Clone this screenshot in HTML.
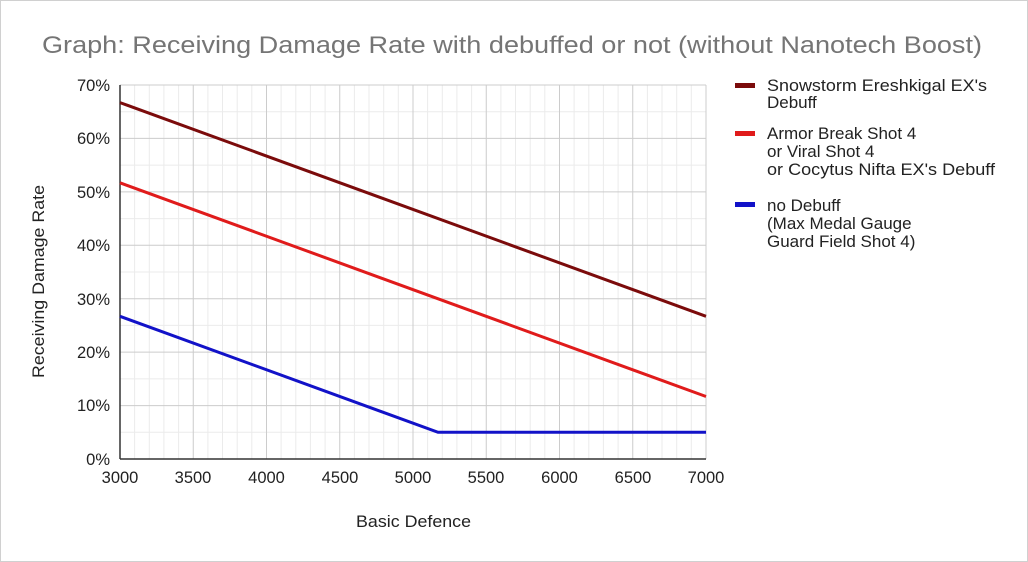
<!DOCTYPE html>
<html><head><meta charset="utf-8"><style>
body{margin:0;background:#fff;}
svg{display:block;font-family:"Liberation Sans",Arial,sans-serif;}
</style></head><body>
<svg width="1028" height="562" viewBox="0 0 1028 562" xmlns="http://www.w3.org/2000/svg">
<rect x="0.5" y="0.5" width="1027" height="561" fill="#fff" stroke="#d0d0d0"/>
<text x="42" y="53" font-size="24" fill="#757575" textLength="940" lengthAdjust="spacingAndGlyphs">Graph: Receiving Damage Rate with debuffed or not (without Nanotech Boost)</text>
<g stroke="#ebebeb" stroke-width="1">
<path d="M134.6 85V459M149.3 85V459M163.9 85V459M178.6 85V459M207.9 85V459M222.5 85V459M237.2 85V459M251.8 85V459M281.1 85V459M295.8 85V459M310.4 85V459M325.1 85V459M354.4 85V459M369.0 85V459M383.7 85V459M398.3 85V459M427.6 85V459M442.3 85V459M456.9 85V459M471.6 85V459M500.9 85V459M515.5 85V459M530.2 85V459M544.8 85V459M574.1 85V459M588.8 85V459M603.4 85V459M618.1 85V459M647.4 85V459M662.0 85V459M676.7 85V459M691.3 85V459"/>
<path d="M120 111.7H706M120 165.1H706M120 218.6H706M120 272H706M120 325.4H706M120 378.9H706M120 432.3H706"/>
</g>
<g stroke="#cccccc" stroke-width="1">
<path d="M193.25 85V459M266.5 85V459M339.75 85V459M413 85V459M486.25 85V459M559.5 85V459M632.75 85V459M706 85V459"/>
<path d="M120 85H706M120 138.4H706M120 191.9H706M120 245.3H706M120 298.7H706M120 352.1H706M120 405.6H706"/>
</g>
<path d="M120 459H706" stroke="#333" stroke-width="1.5"/>
<path d="M120 85V459" stroke="#333" stroke-width="1.5"/>
<g font-size="16.5" fill="#222" text-anchor="end">
<text x="110" y="91">70%</text><text x="110" y="144">60%</text><text x="110" y="198">50%</text>
<text x="110" y="251">40%</text><text x="110" y="305">30%</text><text x="110" y="358">20%</text>
<text x="110" y="411">10%</text><text x="110" y="465">0%</text>
</g>
<g font-size="16.5" fill="#222" text-anchor="middle">
<text x="120" y="483">3000</text><text x="193" y="483">3500</text><text x="266.5" y="483">4000</text>
<text x="340" y="483">4500</text><text x="413" y="483">5000</text><text x="486" y="483">5500</text>
<text x="559.5" y="483">6000</text><text x="633" y="483">6500</text><text x="706" y="483">7000</text>
</g>
<text x="356" y="527" font-size="17" fill="#222" textLength="115" lengthAdjust="spacingAndGlyphs">Basic Defence</text>
<text transform="translate(44 378) rotate(-90)" font-size="17" fill="#222" textLength="193" lengthAdjust="spacingAndGlyphs">Receiving Damage Rate</text>
<g fill="none" stroke-width="3">
<path d="M120 102.6L706 316.3" stroke="#7b0b0b"/>
<path d="M120 182.8L706 396.5" stroke="#e01b1b"/>
<path d="M120 316.3L438 432.3H706" stroke="#1212c8"/>
</g>
<rect x="735" y="83" width="20" height="5" fill="#7b0b0b"/>
<rect x="735" y="131" width="20" height="5" fill="#e01b1b"/>
<rect x="735" y="202" width="20" height="5" fill="#1212c8"/>
<g font-size="17" fill="#222">
<text x="767" y="91" textLength="220" lengthAdjust="spacingAndGlyphs">Snowstorm Ereshkigal EX's</text><text x="767" y="108">Debuff</text>
<text x="767" y="139">Armor Break Shot 4</text><text x="767" y="157">or Viral Shot 4</text><text x="767" y="175" textLength="228" lengthAdjust="spacingAndGlyphs">or Cocytus Nifta EX's Debuff</text>
<text x="767" y="211">no Debuff</text><text x="767" y="229">(Max Medal Gauge</text><text x="767" y="247">Guard Field Shot 4)</text>
</g>
</svg>
</body></html>
